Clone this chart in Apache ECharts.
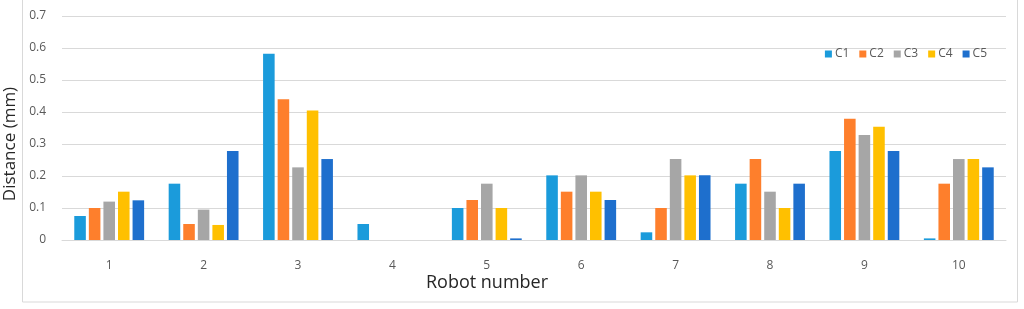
<!DOCTYPE html>
<html><head><meta charset="utf-8">
<script src="https://cdn.jsdelivr.net/npm/echarts@6/dist/echarts.min.js"></script>
<style>html,body{margin:0;padding:0;background:#fff}#c{width:1024px;height:309px}</style>
</head><body><div id="c"></div>
<script>
const categories = ['1','2','3','4','5','6','7','8','9','10'];
const seriesNames = ['C1','C2','C3','C4','C5'];
const C1 = [0.075, 0.176, 0.582, 0.05, 0.1, 0.202, 0.024, 0.176, 0.278, 0.005];
const C2 = [0.1, 0.05, 0.44, 0, 0.125, 0.151, 0.1, 0.253, 0.379, 0.176];
const C3 = [0.12, 0.095, 0.227, 0, 0.176, 0.202, 0.253, 0.151, 0.328, 0.253];
const C4 = [0.151, 0.047, 0.405, 0, 0.1, 0.151, 0.202, 0.1, 0.354, 0.253];
const C5 = [0.124, 0.278, 0.253, 0, 0.005, 0.125, 0.202, 0.176, 0.278, 0.227];
const yTicks = [0, 0.1, 0.2, 0.3, 0.4, 0.5, 0.6, 0.7];
const colors = ['#1b9bdb', '#fe7f2c', '#a6a6a6', '#ffc000', '#1e6fcd'];
const values = [C1, C2, C3, C4, C5];
const font = '"Open Sans", "Noto Sans", sans-serif';
const chart = echarts.init(document.getElementById('c'));
chart.setOption({
  animation: false,
  textStyle: {fontFamily: font},
  grid: {left: 62, right: 18, top: 16, bottom: 69, containLabel: false},
  legend: {
    data: seriesNames, right: 32, top: 43, itemWidth: 7, itemHeight: 7, itemGap: 10,
    icon: 'rect', textStyle: {color: '#595959', fontSize: 12, fontFamily: font, padding: [0,0,0,-2]}
  },
  xAxis: {
    type: 'category', data: categories,
    axisLine: {lineStyle: {color: '#d9d9d9'}}, axisTick: {show: false},
    axisLabel: {color: '#595959', fontSize: 12, margin: 20}
  },
  yAxis: {
    type: 'value', min: 0, max: 0.7, interval: 0.1,
    axisLine: {show: false}, axisTick: {show: false},
    axisLabel: {color: '#595959', fontSize: 12, margin: 16, formatter: v => (yTicks.indexOf(Math.round(v*10)/10) >= 0 ? String(Math.round(v*10)/10) : '')},
    splitLine: {lineStyle: {color: '#d9d9d9'}}
  },
  graphic: [
    {type: 'rect', shape: {x: 22.5, y: -2, width: 995, height: 304}, style: {fill: 'none', stroke: '#d9d9d9', lineWidth: 1}},
    {type: 'text', x: 487, y: 283, style: {text: 'Robot number', fill: '#262626', font: '18px ' + font, textAlign: 'center', textVerticalAlign: 'middle'}},
    {type: 'text', x: 10, y: 144, rotation: Math.PI / 2, style: {text: 'Distance (mm)', fill: '#262626', font: '17px ' + font, textAlign: 'center', textVerticalAlign: 'middle'}}
  ],
  series: seriesNames.map((n, i) => ({
    name: n, type: 'bar', data: values[i], barGap: '26%', barCategoryGap: '26%',
    itemStyle: {color: colors[i]}
  }))
});
</script></body></html>
